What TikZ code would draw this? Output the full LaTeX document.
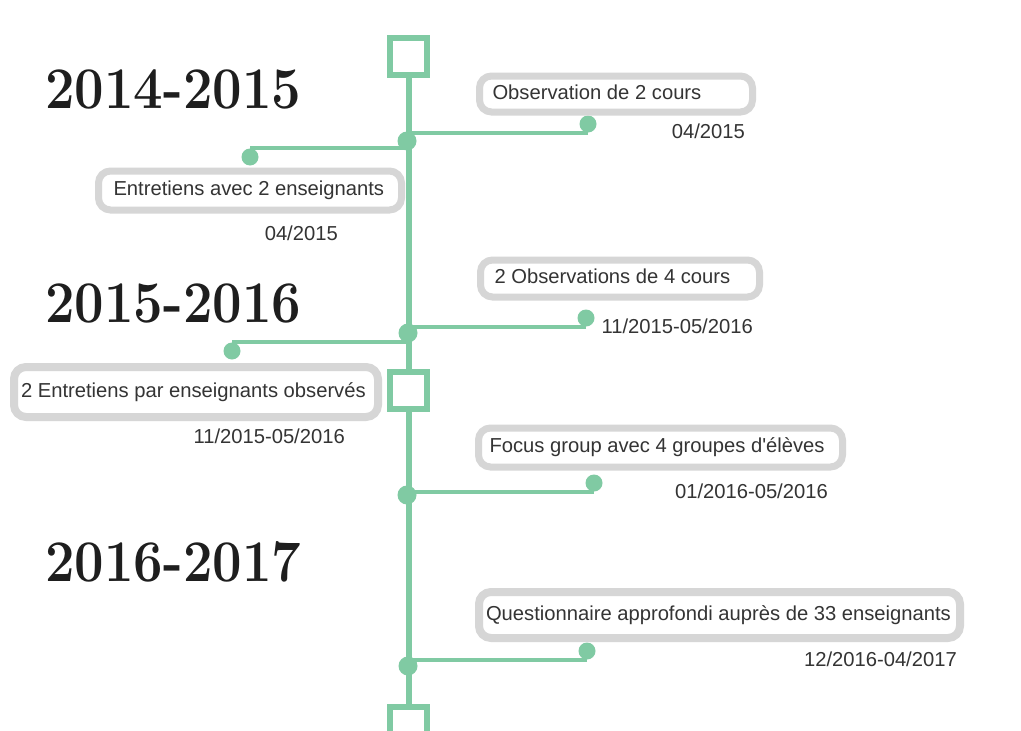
\documentclass[tikz,border=0pt]{standalone}
\usepackage{fontspec}
\newfontfamily\labelfont{Liberation Sans}
\usetikzlibrary{backgrounds}
\definecolor{mint}{RGB}{128,202,163}
\definecolor{boxgray}{RGB}{214,214,214}
\definecolor{txt}{RGB}{52,52,52}
\definecolor{yearcol}{RGB}{30,30,30}
\begin{document}
\begin{tikzpicture}[x=1pt,y=-1pt,
  spine/.style={draw=mint, line width=6pt},
  branch/.style={draw=mint, line width=4pt},
  sq/.style={draw=mint, line width=6pt, fill=white, minimum size=37pt, inner sep=0pt},
  jdot/.style={circle, fill=mint, minimum size=19pt, inner sep=0pt},
  edot/.style={circle, fill=mint, minimum size=17pt, inner sep=0pt},
  evbox/.style={draw=boxgray, line width=7pt, fill=white, rounded corners=12pt,
    font=\labelfont\fontsize{20.2}{23}\selectfont, text=txt, anchor=west,
    inner ysep=0pt, text height=14.5pt, text depth=4pt},
  datelbl/.style={font=\labelfont\fontsize{20.2}{23}\selectfont, text=txt, anchor=east, inner sep=0pt},
  year/.style={font=\fontsize{59}{60}\selectfont\bfseries\addfontfeatures{FakeBold=1.6}, text=yearcol, anchor=west, inner sep=0pt}
]
\useasboundingbox (0,0) rectangle (1021,731);

% squares
\node[sq] (sq1) at (408.5,56) {};
\node[sq] (sq2) at (408.5,390) {};
\node[sq] (sq3) at (408.5,725.5) {};

% junction and end dots
\node[jdot] (j1) at (407,141) {};
\node[jdot] (j2) at (408,333) {};
\node[jdot] (j3) at (407,495) {};
\node[jdot] (j4) at (408,666) {};
\node[edot] (e1) at (588,124) {};
\node[edot] (l1) at (250,157) {};
\node[edot] (e2) at (586,318) {};
\node[edot] (l2) at (232,351) {};
\node[edot] (e3) at (594,483) {};
\node[edot] (e4) at (587,651) {};

\begin{pgfonlayer}{background}
  \fill[white] (0,0) rectangle (1021,731);
  \draw[branch] (e1.south) -- (e1.south -| j1.center);
  \draw[branch] (l1.north) -- (l1.north -| j1.center);
  \draw[branch] (e2.south) -- (e2.south -| j2.center);
  \draw[branch] (l2.north) -- (l2.north -| j2.center);
  \draw[branch] (e3.south) -- (e3.south -| j3.center);
  \draw[branch] (e4.south) -- (e4.south -| j4.center);
\end{pgfonlayer}

% years
\node[year] (y1) at (45,89) {\scalebox{0.89}[1]{2014-2015}};
\node[year] (y2) at (45,303) {\scalebox{0.89}[1]{2015-2016}};
\node[year] (y3) at (45,562) {\scalebox{0.89}[1]{2016-2017}};

% event boxes
\node[evbox, inner xsep=13pt, minimum height=36pt] (b1) at (476,94) {\makebox[247pt][l]{Observation de 2 cours}};
\node[evbox, inner xsep=15pt, minimum height=39pt] (b2) at (95,190.5) {\makebox[273pt][l]{Entretiens avec 2 enseignants}};
\node[evbox, inner xsep=14pt, minimum height=37pt] (b3) at (477,278.5) {\makebox[251pt][l]{2 Observations de 4 cours}};
\node[evbox, line width=8pt, inner xsep=7pt, minimum height=50pt] (b4) at (10,392) {\makebox[350pt][l]{2 Entretiens par enseignants observés}};
\node[evbox, inner xsep=11pt, minimum height=39pt] (b5) at (475,447.5) {\makebox[342pt][l]{Focus group avec 4 groupes d'élèves}};
\node[evbox, line width=8pt, inner xsep=7pt, minimum height=46pt] (b6) at (475,615) {\makebox[467pt][l]{Questionnaire approfondi auprès de 33 enseignants}};

% spine on top of the boxes
\draw[spine] (sq1.south) -- (sq2.north);
\draw[spine] (sq2.south) -- (sq3.north);

% dates
\node[datelbl] (d1) at (745,131) {04/2015};
\node[datelbl] (d2) at (338,233) {04/2015};
\node[datelbl] (d3) at (753,326) {11/2015-05/2016};
\node[datelbl] (d4) at (345,436) {11/2015-05/2016};
\node[datelbl] (d5) at (828,491) {01/2016-05/2016};
\node[datelbl] (d6) at (957,659) {12/2016-04/2017};
\end{tikzpicture}
\end{document}
